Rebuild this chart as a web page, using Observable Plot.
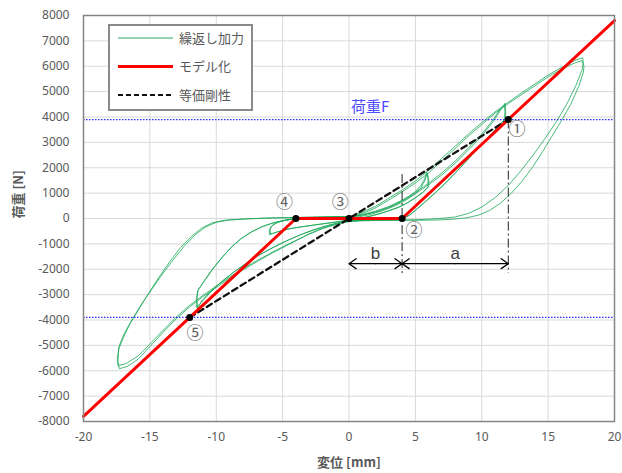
<!DOCTYPE html>
<html><head><meta charset="utf-8">
<script src="https://cdn.jsdelivr.net/npm/d3@7"></script>
<script src="https://cdn.jsdelivr.net/npm/@observablehq/plot@0.6"></script>
<style>
body{margin:0;background:#fff;}
#wrap{position:relative;width:622px;height:473px;}
#legend{position:absolute;left:108px;top:24px;width:141px;height:83px;border:2px solid #8a8a8a;background:#fff;}
</style></head><body><div id="wrap"></div>
<script>
// ---- data ----
const xTicks = [-20,-15,-10,-5,0,5,10,15,20];
const yTicks = [-8000,-7000,-6000,-5000,-4000,-3000,-2000,-1000,0,1000,2000,3000,4000,5000,6000,7000,8000];
const xGrid = [-15,-10,-5,0,5,10,15];
const yGrid = [-7000,-6000,-5000,-4000,-3000,-2000,-1000,0,1000,2000,3000,4000,5000,6000,7000];

const seriesNames = ["繰返し加力","モデル化","等価剛性"];

// cyclic loading record [disp mm, load N]
const cycleSmall1 = [[0,0],[0.5,40],[1,90],[1.5,150],[2,220],[2.5,300],[3,400],[3.5,510],[4,640],[4.5,790],[5,980],[5.4,1200],[5.7,1480],[5.9,1780],[6.0,1550],[6.0,1250],[5.6,1050],[5.0,820],[4.4,620],[3.8,450],[3.0,300],[2.2,170],[1.4,60],[0.6,-20],[0,-70],[-0.8,-130],[-1.6,-190],[-2.4,-240],[-3.2,-300],[-4.0,-360],[-4.7,-430],[-5.3,-510],[-5.8,-600],[-6.0,-640],[-6.0,-480],[-5.9,-330],[-5.6,-200],[-5.1,-100],[-4.4,-30],[-3.5,10],[-2.5,30],[-1.5,40],[-0.5,50],[0,60]];
const cycleSmall2 = [[0.5,90],[1,130],[1.5,190],[2,260],[2.5,340],[3,440],[3.5,560],[4,700],[4.5,860],[5,1060],[5.4,1290],[5.7,1550],[5.85,1820],[5.95,1600],[5.95,1230],[5.5,1000],[4.9,780],[4.3,590],[3.6,420],[2.8,270],[2,150],[1.2,50],[0.4,-30],[-0.4,-90],[-1.2,-150],[-2,-210],[-2.8,-270],[-3.6,-330],[-4.4,-400],[-5,-470],[-5.6,-560],[-5.9,-620],[-5.95,-450],[-5.8,-290],[-5.4,-160],[-4.8,-70],[-4,-10],[-3,20],[-2,35],[-1,45],[0,55]];
const cycleMed1 = [[0.5,90],[1,140],[2,260],[3,430],[4,680],[5,980],[6,1330],[7,1720],[8,2180],[9,2700],[10,3250],[10.8,3780],[11.4,4250],[11.75,4540],[11.8,4250],[11.8,3950],[11.2,3600],[10.5,3200],[9.8,2800],[9,2350],[8.2,1900],[7.4,1460],[6.6,1060],[5.8,680],[5.1,360],[4.6,140],[4.2,30],[3.5,-20],[2.5,-45],[1.5,-60],[0.5,-80],[-0.5,-130],[-1.5,-260],[-2.5,-420],[-3.5,-610],[-4.5,-830],[-5.5,-1080],[-6.5,-1360],[-7.5,-1680],[-8.5,-2040],[-9.5,-2450],[-10.5,-2900],[-11.1,-3250],[-11.4,-3550],[-11.45,-3200],[-11.4,-2850],[-10.9,-2450],[-10.3,-2000],[-9.6,-1550],[-8.9,-1150],[-8.2,-820],[-7.4,-550],[-6.6,-330],[-5.8,-190],[-5,-90],[-4.2,-20],[-3.5,30],[-2.5,45],[-1.5,55],[-0.5,65],[0,70]];
const cycleMed2 = [[0.5,100],[1,160],[2,290],[3,470],[4,720],[5,1030],[6,1390],[7,1800],[8,2260],[9,2780],[10,3330],[10.8,3850],[11.35,4280],[11.7,4480],[11.75,4200],[11.7,3900],[11.1,3550],[10.4,3150],[9.7,2750],[8.9,2300],[8.1,1850],[7.3,1420],[6.5,1020],[5.7,640],[5,330],[4.5,120],[4.1,20],[3.3,-30],[2.3,-50],[1.3,-65],[0.3,-90],[-0.7,-160],[-1.7,-290],[-2.7,-450],[-3.7,-650],[-4.7,-880],[-5.7,-1140],[-6.7,-1420],[-7.7,-1750],[-8.7,-2120],[-9.7,-2530],[-10.5,-2950],[-11.1,-3300],[-11.5,-3500],[-11.5,-3150],[-11.35,-2800],[-10.8,-2400],[-10.2,-1950],[-9.5,-1500],[-8.8,-1100],[-8.1,-780],[-7.3,-510],[-6.5,-310],[-5.7,-170],[-4.9,-70],[-4.1,-10],[-3.2,25],[-2.2,40],[-1.2,55],[-0.2,65]];
const cycleLarge1 = [[0.6,120],[1.9,390],[3.1,760],[4,1050],[5,1400],[6,1800],[7,2280],[8,2760],[9,3250],[10,3700],[11,4150],[12,4530],[13,4880],[14,5230],[15,5580],[16,5880],[17,6130],[17.55,6220],[17.7,6000],[17.65,5750],[17.3,5200],[16.7,4500],[16,3850],[15.3,3250],[14.6,2650],[13.8,2000],[13,1450],[12.2,980],[11.4,600],[10.6,320],[9.8,140],[8.9,30],[7.8,-30],[6.5,-60],[5,-70],[3.5,-75],[2,-80],[0.8,-90],[-0.2,-130],[-1,-220],[-2,-380],[-3,-600],[-4,-880],[-5,-1150],[-6,-1420],[-7,-1720],[-8,-2030],[-9,-2360],[-10,-2720],[-11,-3080],[-12,-3480],[-13,-3950],[-14,-4480],[-15,-5050],[-15.9,-5550],[-16.7,-5830],[-17.3,-5920],[-17.4,-5650],[-17.35,-5150],[-17,-4700],[-16.5,-4150],[-15.8,-3550],[-15.1,-2950],[-14.3,-2300],[-13.5,-1700],[-12.7,-1150],[-11.9,-720],[-11.1,-380],[-10.3,-170],[-9.4,-70],[-8,-20],[-6.5,10],[-5,30],[-3.5,45],[-2,60],[-0.5,75],[0.2,90]];
const cycleLarge2 = [[1,250],[2,480],[3,800],[4,1120],[5,1480],[6,1900],[7,2380],[8,2850],[9,3330],[10,3780],[11,4200],[12,4580],[13,4950],[14,5300],[15,5650],[16,5950],[17,6230],[17.6,6330],[17.65,6150],[17.55,5850],[17.1,5250],[16.4,4500],[15.6,3800],[14.7,3100],[13.8,2450],[12.9,1850],[12,1300],[11,820],[10,450],[9,200],[8,60],[6.8,0],[5.5,-40],[4,-60],[2.5,-70],[1,-85],[0,-120],[-1,-240],[-2,-400],[-3,-620],[-4,-860],[-5,-1120],[-6,-1390],[-7,-1680],[-8,-1990],[-9,-2310],[-10,-2660],[-11,-3030],[-12,-3420],[-13,-3880],[-14,-4400],[-15,-4950],[-15.9,-5420],[-16.8,-5720],[-17.4,-5800],[-17.45,-5500],[-17.3,-5000],[-16.9,-4500],[-16.3,-3950],[-15.6,-3350],[-14.8,-2750],[-14,-2150],[-13.2,-1600],[-12.4,-1080],[-11.6,-650],[-10.8,-330],[-10,-150],[-9,-60],[-7.5,-10],[-6,20],[-4.5,35],[-3,50],[-1.5,65],[0,80]];

// model (trilinear) and equivalent stiffness
const modelX = [-20,-4,4,20];
const modelY = [-7800,0,0,7800];
const equivX = [-12,12];
const equivY = [-3900,3900];

// key points ①..⑤
const pointNames = ["①","②","③","④","⑤"];
const pointX = [12,4,0,-4,-12];
const pointY = [3900,0,0,0,-3900];
const pointLabelX = [12.65,4.9,-0.65,-4.85,-11.6];
const pointLabelY = [3490,-480,640,640,-4540];

// load F
const loadF = 3900;
const loadLabel = "荷重F";

// dimension guides
const guideX = [4,12];
const guideTop = [1750,3900];
const guideBottom = -2150;
const dimNames = ["b","a"];
const dimFrom = [0,4];
const dimTo = [4,12];
const dimY = -1780;
const dimLabelY = -1400;

// ---- chart ----
const toXY = a => a.map(([x,y]) => ({x,y}));
const green = toXY([...cycleSmall1,...cycleSmall2,...cycleMed1,...cycleMed2,...cycleLarge1,...cycleLarge2]);
const model = modelX.map((x,i)=>({x,y:modelY[i]}));
const equiv = equivX.map((x,i)=>({x,y:equivY[i]}));
const pts = pointNames.map((n,i)=>({n,x:pointX[i],y:pointY[i],lx:pointLabelX[i],ly:pointLabelY[i]}));
const guides = guideX.map((x,i)=>({x,y1:guideTop[i],y2:guideBottom}));
const dims = dimNames.map((n,i)=>({n,x1:dimFrom[i],x2:dimTo[i],y:dimY,mx:(dimFrom[i]+dimTo[i])/2}));
// each dimension line drawn as two arrows from its middle toward both ends
const dimArrows = dims.flatMap(d => [{x1:d.mx,x2:d.x1,y:d.y},{x1:d.mx,x2:d.x2,y:d.y}]);

const fontTick = "'Noto Sans','Noto Sans CJK JP',sans-serif";
const fontJP = "'Noto Sans CJK JP',sans-serif";

const chart = Plot.plot({
  width: 622, height: 473,
  marginLeft: 83, marginRight: 8, marginTop: 15, marginBottom: 52,
  style: {fontFamily: fontTick, fontSize: "12px", color: "#595959", background: "#fff"},
  x: {domain: [-20,20], ticks: xTicks, tickSize: 0, tickPadding: 11, tickFormat: d => String(d), label: null},
  y: {domain: [-8000,8000], ticks: yTicks, tickSize: 0, tickPadding: 14, tickFormat: d => String(d), label: null},
  marks: [
    Plot.gridX(xGrid, {stroke: "#d9d9d9", strokeOpacity: 1, strokeWidth: 1}),
    Plot.gridY(yGrid, {stroke: "#d9d9d9", strokeOpacity: 1, strokeWidth: 1}),
    Plot.line(green, {x: "x", y: "y", stroke: "#1ea85a", strokeWidth: 0.9, strokeOpacity: 0.9, curve: "linear"}),
    Plot.ruleY([loadF, -loadF], {stroke: "#2a2aff", strokeWidth: 1.2, strokeDasharray: "1.5,1.5"}),
    Plot.link(guides, {x1: "x", x2: "x", y1: "y1", y2: "y2", stroke: "#222", strokeWidth: 1, strokeDasharray: "9,3,2,3"}),
    Plot.line(equiv, {x: "x", y: "y", stroke: "#111", strokeWidth: 2.3, strokeDasharray: "6,4"}),
    Plot.line(model, {x: "x", y: "y", stroke: "#ff0000", strokeWidth: 3}),
    Plot.dot(pts, {x: "x", y: "y", r: 3.5, fill: "#000"}),
    Plot.arrow(dimArrows, {x1: "x1", x2: "x2", y1: "y", y2: "y", stroke: "#000", strokeWidth: 1.3, headLength: 10, headAngle: 70}),
    Plot.text(dims, {x: "mx", y: dimLabelY, text: "n", fontSize: 17, fill: "#404040", fontFamily: "'Liberation Sans',sans-serif"}),
    Plot.text(pts, {x: "lx", y: "ly", text: "n", fontSize: 17, fill: "#606060", fontFamily: fontJP}),
    Plot.text([loadLabel], {x: 0.15, y: loadF + 470, text: d => d, textAnchor: "start", fontSize: 15, fill: "#4b4bff", fontFamily: fontJP}),
    Plot.frame({stroke: "#858585", strokeWidth: 1.5}),
    Plot.text(["変位 [mm]"], {frameAnchor: "bottom", dy: 45, text: d => d, fontWeight: "bold", fontSize: 13, fill: "#595959", fontFamily: fontJP}),
    Plot.text(["荷重 [N]"], {frameAnchor: "left", dx: -65, rotate: -90, text: d => d, fontWeight: "bold", fontSize: 13, fill: "#595959", fontFamily: fontJP})
  ]
});
const wrap = document.getElementById("wrap");
wrap.appendChild(chart);

// legend
const legend = document.createElement("div");
legend.id = "legend";
const rows = [
  {stroke: "#1ea85a", w: 1, dash: null},
  {stroke: "#ff0000", w: 3.2, dash: null},
  {stroke: "#111", w: 2, dash: "5,3"}
];
let svg = '<svg width="141" height="83" xmlns="http://www.w3.org/2000/svg">';
seriesNames.forEach((name,i) => {
  const y = 12 + i*28.5;
  const r = rows[i];
  svg += `<line x1="8" x2="63" y1="${y}" y2="${y}" stroke="${r.stroke}" stroke-width="${r.w}"${r.dash ? ` stroke-dasharray="${r.dash}"` : ""}/>`;
  svg += `<text x="69" y="${y}" dy="0.35em" font-size="13" fill="#595959" font-family="'Noto Sans CJK JP',sans-serif">${name}</text>`;
});
svg += '</svg>';
legend.innerHTML = svg;
wrap.appendChild(legend);
</script>
</body></html>
